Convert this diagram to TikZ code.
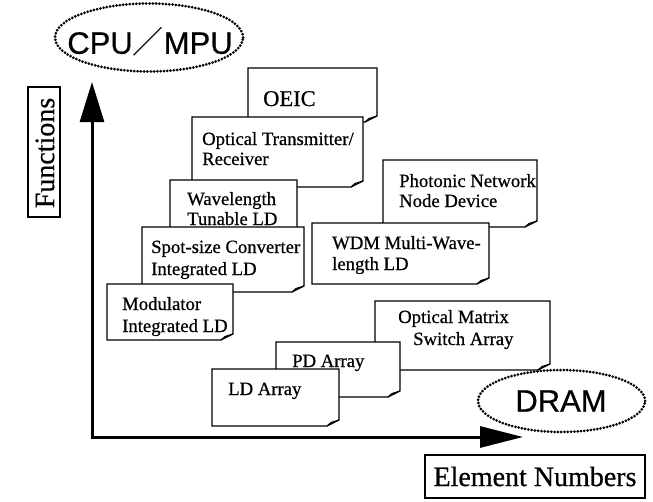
\documentclass[tikz,border=0pt]{standalone}
\usepackage{fontspec}
\setmainfont{Liberation Serif}[FakeBold=0.6]
\newfontfamily\arialf{Liberation Sans}[FakeBold=0.6]
\newfontfamily\cjkf{Noto Sans CJK SC}
\usetikzlibrary{arrows.meta,shapes.geometric}
\tikzset{
  paperbox/.style={draw=black, fill=white, line width=1.2pt, line join=miter},
  paperflap/.style={draw=black, line width=1.1pt, line join=round},
  lbl/.style={anchor=base west, inner sep=0pt, font=\fontsize{18.7}{20}\selectfont},
  dotell/.style={ellipse, draw=black, line width=3pt, dash pattern=on 0pt off 3.3pt, line cap=round, minimum width=#1},
  axisline/.style={line width=3pt, line join=miter},
  framebox/.style={draw=black, line width=1.5pt, inner sep=0pt},
}
\newcommand\fpaper[4]{%
  \draw[paperbox] (#1,#2) -- (#3,#2) -- (#3,#4-6) .. controls (#3-4,#4-4) .. (#3-12,#4) -- (#1,#4) -- cycle;
  \draw[paperflap] (#3,#4-6) -- (#3-8,#4-3.5) -- (#3-12,#4);
}
\begin{document}
\begin{tikzpicture}[x=1pt,y=-1pt]
\useasboundingbox (0,0) rectangle (653,501);
% axes
\coordinate (origin) at (92,437);
\coordinate (ytip) at (92,82);
\coordinate (xtip) at (523,437);
\draw[axisline, {Triangle[length=40pt,width=24pt]}-{Triangle[length=43pt,width=21pt]}] (ytip) -- (origin) -- (xtip);
% ellipses
\node[dotell=188pt, minimum height=68pt] (cpu) at (149,37.5) {};
\node[inner sep=0pt, font=\fontsize{31}{31}\selectfont\arialf] (cputxt) at (150,42) {CPU{\cjkf ／}MPU};
\node[dotell=167pt, minimum height=62pt] (dram) at (561.5,401) {};
\node[inner sep=0pt, font=\fontsize{31}{31}\selectfont\arialf] (dramtxt) at (561,401) {DRAM};
% axis labels
\draw[framebox] (28,87) rectangle (60,217);
\node[rotate=90, inner sep=0pt, font=\fontsize{28}{28}\selectfont] (func) at (45,153) {Functions};
\draw[framebox] (425,455) rectangle (645,498);
\node[anchor=base, inner sep=0pt, font=\fontsize{28}{28}\selectfont] (elem) at (535,486) {Element Numbers};
% left column of papers
\fpaper{248}{68}{377}{122}
\node[lbl, font=\fontsize{22.5}{22}\selectfont] (oeic) at (263,106) {OEIC};
\fpaper{192}{117}{363}{187}
\node[lbl] (otr1) at (202,145) {Optical Transmitter/};
\node[lbl] (otr2) at (202,165) {Receiver};
\fpaper{170}{180}{297}{238}
\node[lbl] (wl1) at (187,205) {Wavelength};
\node[lbl] (wl2) at (187,225) {Tunable LD};
\fpaper{142}{227}{304}{292}
\node[lbl] (ss1) at (151,253) {Spot-size Converter};
\node[lbl] (ss2) at (151,275) {Integrated LD};
\fpaper{107}{284}{233}{340}
\node[lbl] (mod1) at (122,310) {Modulator};
\node[lbl] (mod2) at (122,332) {Integrated LD};
% right group
\fpaper{383}{160}{537}{227}
\node[lbl] (pn1) at (399,187) {Photonic Network};
\node[lbl] (pn2) at (399,207) {Node Device};
\fpaper{312}{223}{489}{284}
\node[lbl] (wdm1) at (332,249) {WDM Multi-Wave-};
\node[lbl] (wdm2) at (332,270) {length LD};
% bottom group
\fpaper{375}{301}{550}{370}
\node[lbl] (om1) at (398,323) {Optical Matrix};
\node[lbl] (om2) at (413,345) {Switch Array};
\fpaper{276}{342}{400}{397}
\node[lbl] (pd) at (292,367) {PD Array};
\fpaper{212}{369}{339}{426}
\node[lbl] (ld) at (228,395) {LD Array};
\end{tikzpicture}
\end{document}
